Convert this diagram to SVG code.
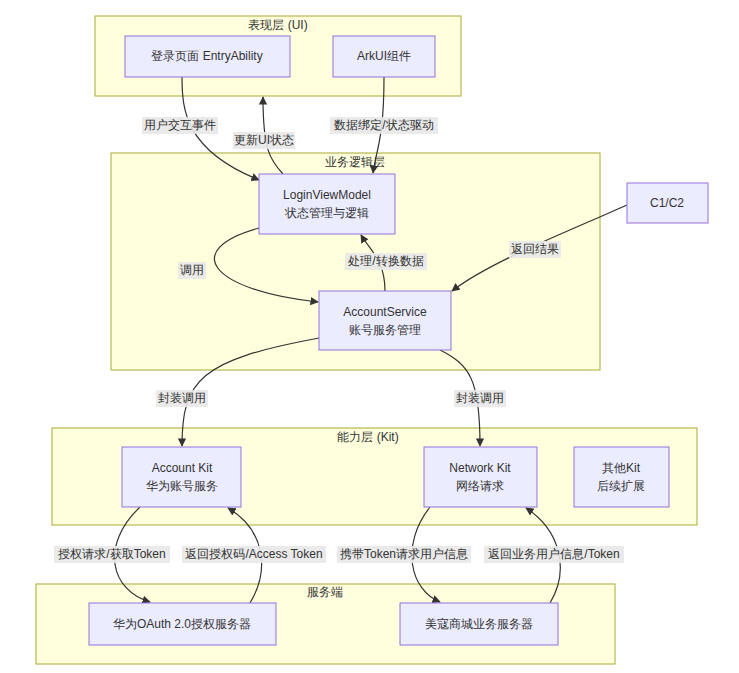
<svg xmlns="http://www.w3.org/2000/svg" width="739" height="673" viewBox="0 0 739 673">
<style>
text{font-family:"Liberation Sans",Arial,sans-serif;font-size:12px;fill:#333;text-anchor:middle;dominant-baseline:central}
.cl{fill:#ffffde;stroke:#aaaa33;stroke-width:1}
.nd{fill:#ececff;stroke:#9370db;stroke-width:1}
.e{fill:none;stroke:#333;stroke-width:1.2;marker-end:url(#a)}
.lb{fill:#e8e8e8;opacity:0.9}
</style>
<defs><marker id="a" viewBox="0 0 10 10" refX="9" refY="5" markerWidth="7" markerHeight="7" orient="auto"><path d="M0,0L10,5L0,10z" fill="#333"/></marker></defs>
<rect width="739" height="673" fill="#fff"/>
<g id="clusters">
<rect class="cl" x="95" y="16" width="366" height="80"/><text x="278" y="25">表现层 (UI)</text>
<rect class="cl" x="111" y="153" width="489" height="217"/><text x="355" y="162">业务逻辑层</text>
<rect class="cl" x="52" y="428" width="645" height="97"/><text x="368" y="437">能力层 (Kit)</text>
<rect class="cl" x="36" y="584" width="579" height="80"/><text x="325" y="592">服务端</text>
</g>
<g id="connectors">
<path class="e" d="M182,77 C182,110 185,150 259,180"/>
<path class="e" d="M283,174 C270,160 263,150 263,97"/>
<path class="e" d="M384,77 C384,140 376,150 373,173"/>
<path class="e" d="M259,228 C180,250 210,290 318,302"/>
<path class="e" d="M385,291 C385,260 370,250 361,235"/>
<path class="e" d="M627,205 C560,235 490,262 452,291"/>
<path class="e" d="M319,338 C200,360 182,380 182,446"/>
<path class="e" d="M440,350 C470,365 480,380 480,446"/>
<path class="e" d="M140,507 C100,545 110,590 150,602"/>
<path class="e" d="M250,603 C270,570 265,530 228,508"/>
<path class="e" d="M430,507 C400,545 410,590 440,602"/>
<path class="e" d="M550,603 C570,570 560,530 526,508"/>
<g>
<rect class="lb" x="142" y="117" width="76" height="17"/><text x="180" y="125">用户交互事件</text>
<rect class="lb" x="233" y="132" width="62" height="17"/><text x="264" y="140">更新UI状态</text>
<rect class="lb" x="330" y="117" width="108" height="17"/><text x="384" y="125">数据绑定/状态驱动</text>
<rect class="lb" x="178" y="262" width="28" height="17"/><text x="192" y="270">调用</text>
<rect class="lb" x="345" y="253" width="82" height="17"/><text x="386" y="261">处理/转换数据</text>
<rect class="lb" x="509" y="241" width="52" height="17"/><text x="535" y="249">返回结果</text>
<rect class="lb" x="156" y="390" width="52" height="17"/><text x="182" y="398">封装调用</text>
<rect class="lb" x="454" y="390" width="52" height="17"/><text x="480" y="398">封装调用</text>
<rect class="lb" x="54" y="546" width="116" height="17"/><text x="112" y="554">授权请求/获取Token</text>
<rect class="lb" x="182" y="546" width="144" height="17"/><text x="254" y="554">返回授权码/Access Token</text>
<rect class="lb" x="337" y="546" width="134" height="17"/><text x="404" y="554">携带Token请求用户信息</text>
<rect class="lb" x="484" y="546" width="140" height="17"/><text x="554" y="554">返回业务用户信息/Token</text>
</g>
</g>
<g id="n1"><rect class="nd" x="125" y="36" width="165" height="41"/><text x="207" y="56">登录页面 EntryAbility</text></g>
<g id="n2"><rect class="nd" x="333" y="36" width="102" height="41"/><text x="384" y="56">ArkUI组件</text></g>
<g id="n3"><rect class="nd" x="259" y="174" width="136" height="60"/><text x="327" y="195">LoginViewModel</text><text x="327" y="213">状态管理与逻辑</text></g>
<g id="n4"><rect class="nd" x="319" y="291" width="132" height="59"/><text x="385" y="312">AccountService</text><text x="385" y="330">账号服务管理</text></g>
<g id="n5"><rect class="nd" x="627" y="183" width="81" height="40"/><text x="667" y="203">C1/C2</text></g>
<g id="n6"><rect class="nd" x="122" y="447" width="119" height="60"/><text x="182" y="468">Account Kit</text><text x="182" y="486">华为账号服务</text></g>
<g id="n7"><rect class="nd" x="424" y="447" width="113" height="60"/><text x="480" y="468">Network Kit</text><text x="480" y="486">网络请求</text></g>
<g id="n8"><rect class="nd" x="574" y="447" width="95" height="60"/><text x="621" y="468">其他Kit</text><text x="621" y="486">后续扩展</text></g>
<g id="n9"><rect class="nd" x="89" y="603" width="187" height="42"/><text x="182" y="624">华为OAuth 2.0授权服务器</text></g>
<g id="n10"><rect class="nd" x="400" y="603" width="158" height="42"/><text x="479" y="624">美寇商城业务服务器</text></g>
</svg>
